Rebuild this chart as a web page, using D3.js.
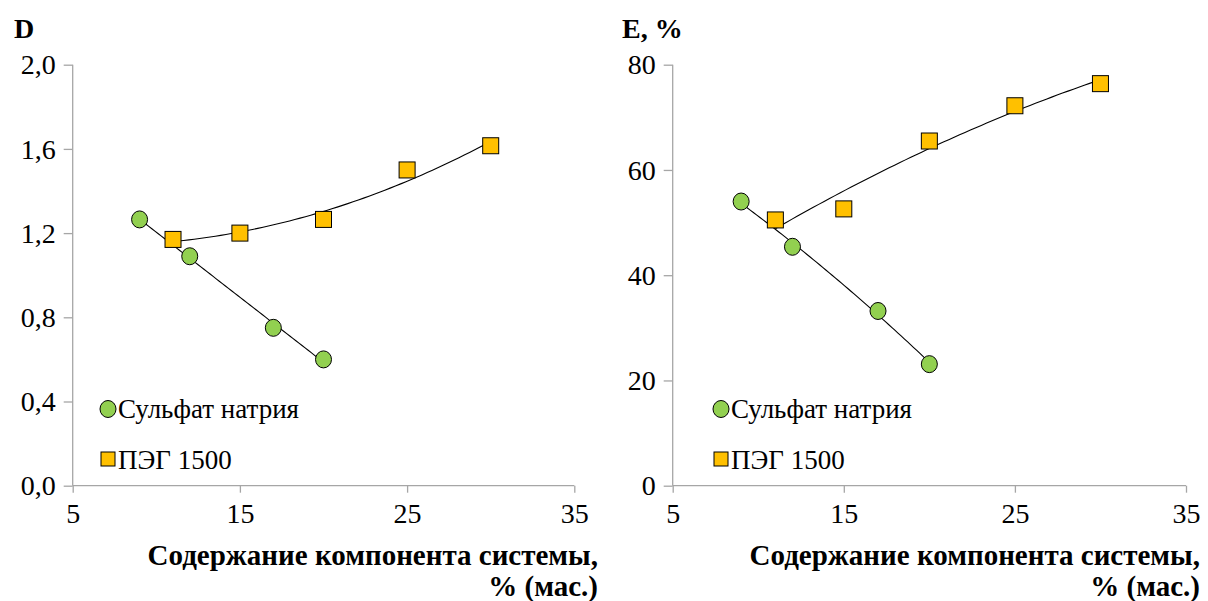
<!DOCTYPE html>
<html>
<head>
<meta charset="utf-8">
<script src="https://cdn.jsdelivr.net/npm/d3@7"></script>
<style>
  html, body { margin: 0; padding: 0; background: #fff; }
  svg { display: block; }
</style>
</head>
<body>
<svg id="fig" width="1208" height="601"></svg>
<script>
// Content of the system component, % (wt.)
const sulfateX = [9, 12, 17, 20];
const pegX = [11, 15, 20, 25, 30];

// Panel D (optical density)
const sulfateD = [1.265, 1.09, 0.75, 0.60];
const pegD = [1.17, 1.20, 1.265, 1.50, 1.615];

// Panel E, %
const sulfateE = [54.0, 45.4, 33.2, 23.1];
const pegE = [50.5, 52.6, 65.5, 72.2, 76.4];

const xTicks = [5, 15, 25, 35];
const dTicks = [0, 0.4, 0.8, 1.2, 1.6, 2.0];
const eTicks = [0, 20, 40, 60, 80];

const seriesNames = ["Сульфат натрия", "ПЭГ 1500"];
const xTitle = ["Содержание компонента системы,", "% (мас.)"];

const SERIF = "Liberation Serif";
const GREEN = "#92d050", GOLD = "#ffc000", AXIS = "#a6a6a6";

// least-squares polynomial fit (trend line through the points)
function polyfit(xs, ys, order) {
  const n = order + 1;
  const A = Array.from({length: n}, () => new Array(n + 1).fill(0));
  xs.forEach((x, k) => {
    for (let i = 0; i < n; i++) {
      for (let j = 0; j < n; j++) A[i][j] += Math.pow(x, i + j);
      A[i][n] += ys[k] * Math.pow(x, i);
    }
  });
  for (let c = 0; c < n; c++) {
    let p = c;
    for (let r = c + 1; r < n; r++) if (Math.abs(A[r][c]) > Math.abs(A[p][c])) p = r;
    [A[c], A[p]] = [A[p], A[c]];
    for (let r = 0; r < n; r++) {
      if (r === c) continue;
      const f = A[r][c] / A[c][c];
      for (let j = c; j <= n; j++) A[r][j] -= f * A[c][j];
    }
  }
  const coef = A.map((row, i) => row[n] / row[i]);
  return x => coef.reduce((s, c, i) => s + c * Math.pow(x, i), 0);
}

function trendPoints(xs, ys, order) {
  const f = polyfit(xs, ys, order);
  const lo = d3.min(xs), hi = d3.max(xs);
  return d3.range(0, 61).map(i => {
    const x = lo + (hi - lo) * i / 60;
    return [x, f(x)];
  });
}

const svg = d3.select("#fig");

function setFont(sel, size, bold) {
  return sel.attr("font-family", SERIF).attr("font-size", size)
    .attr("font-weight", bold ? "bold" : "normal").attr("fill", "#000");
}

function panel(opt) {
  const x = d3.scaleLinear().domain([5, 35]).range([opt.left, opt.right]);
  const y = d3.scaleLinear().domain(opt.yDomain).range([485.7, 64.7]);
  const g = svg.append("g");

  // axes
  const xAxis = d3.axisBottom(x).tickValues(xTicks).tickSize(7).tickFormat(d => d);
  const gx = g.append("g").attr("transform", "translate(0,485.7)").call(xAxis);
  const yAxis = d3.axisLeft(y).tickValues(opt.yTicks).tickSize(9).tickFormat(opt.fmt);
  const gy = g.append("g").attr("transform", `translate(${opt.left},0)`).call(yAxis);
  [gx, gy].forEach(a => {
    setFont(a, 28, false);
    a.selectAll("path, line").attr("stroke", AXIS).attr("stroke-width", 1.3);
    a.select("path").attr("d", a === gx
      ? `M${opt.left},0H${opt.right}`
      : `M0,${y(opt.yDomain[1])}V${y(0)}`);
    setFont(a.selectAll("text"), 28, false);
  });
  gx.selectAll("text").attr("y", 17).attr("dy", "0.71em");
  gy.selectAll("text").attr("x", -17).attr("dy", "0.33em");

  // trend lines
  const line = d3.line().x(d => x(d[0])).y(d => y(d[1]));
  g.append("path").attr("d", line(trendPoints(sulfateX, opt.sulfate, opt.sOrder)))
    .attr("fill", "none").attr("stroke", "#000").attr("stroke-width", 1.1);
  g.append("path").attr("d", line(trendPoints(pegX, opt.peg, opt.pOrder)))
    .attr("fill", "none").attr("stroke", "#000").attr("stroke-width", 1.1);

  // markers
  g.selectAll("ellipse.s").data(sulfateX.map((v, i) => [v, opt.sulfate[i]])).join("ellipse")
    .attr("cx", d => x(d[0])).attr("cy", d => y(d[1])).attr("rx", 8).attr("ry", 8.5)
    .attr("fill", GREEN).attr("stroke", "#000").attr("stroke-width", 1);
  g.selectAll("rect.p").data(pegX.map((v, i) => [v, opt.peg[i]])).join("rect")
    .attr("x", d => x(d[0]) - 8).attr("y", d => y(d[1]) - 8).attr("width", 16).attr("height", 16)
    .attr("fill", GOLD).attr("stroke", "#000").attr("stroke-width", 1);

  // axis titles
  setFont(g.append("text").attr("x", opt.titleX).attr("y", 38).text(opt.title), 28, true);
  xTitle.forEach((t, i) => setFont(g.append("text").attr("x", opt.titleRight).attr("y", 565 + i * 31)
    .attr("text-anchor", "end").text(t), 29, true));

  // legend
  const lg = g.append("g").attr("transform", `translate(${opt.legX},0)`);
  lg.append("ellipse").attr("cx", 0).attr("cy", 409).attr("rx", 8).attr("ry", 8.5)
    .attr("fill", GREEN).attr("stroke", "#000");
  setFont(lg.append("text").attr("x", 10).attr("y", 418).text(seriesNames[0]), 27, false);
  lg.append("rect").attr("x", -7).attr("y", 452).attr("width", 14).attr("height", 14)
    .attr("fill", GOLD).attr("stroke", "#000");
  setFont(lg.append("text").attr("x", 10).attr("y", 469).text(seriesNames[1]), 27, false);
}

panel({
  left: 72.7, right: 574.3, yDomain: [0, 2], yTicks: dTicks,
  fmt: d => d3.format(".1f")(d).replace(".", ","),
  sulfate: sulfateD, peg: pegD, sOrder: 1, pOrder: 2,
  title: "D", titleX: 14, titleRight: 598, legX: 108
});
panel({
  left: 672.7, right: 1186, yDomain: [0, 80], yTicks: eTicks,
  fmt: d => d,
  sulfate: sulfateE, peg: pegE, sOrder: 2, pOrder: 2,
  title: "E, %", titleX: 622, titleRight: 1200, legX: 721
});
</script>
</body>
</html>
